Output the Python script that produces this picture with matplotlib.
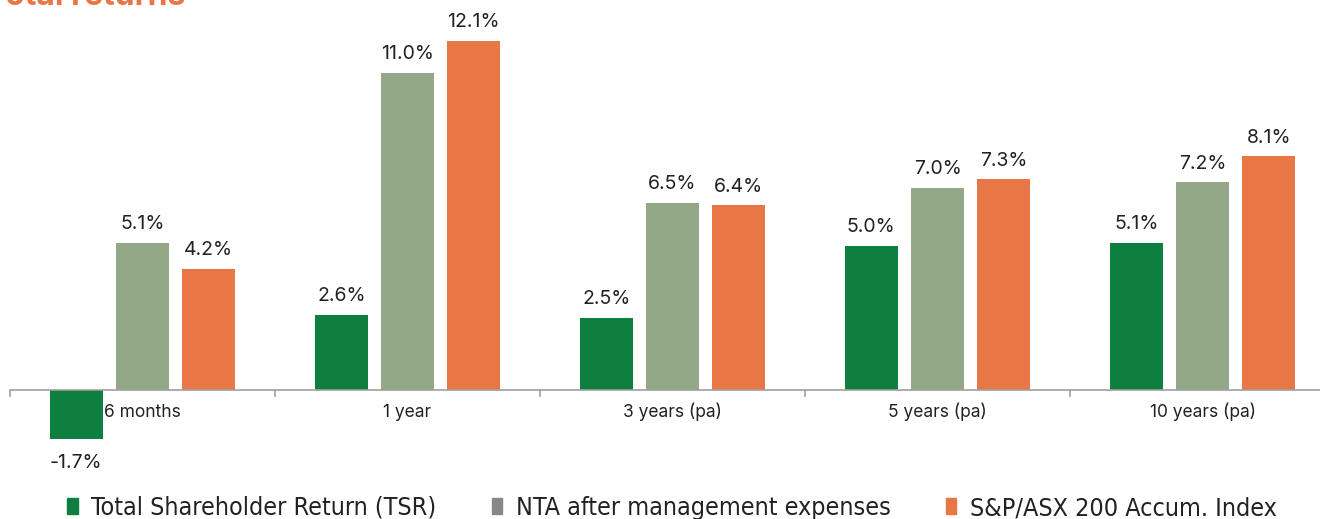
import matplotlib
matplotlib.use("Agg")
import matplotlib.pyplot as plt
from matplotlib.patches import Patch
import numpy as np

categories = ["6 months", "1 year", "3 years (pa)", "5 years (pa)", "10 years (pa)"]
tsr = [-1.7, 2.6, 2.5, 5.0, 5.1]
nta = [5.1, 11.0, 6.5, 7.0, 7.2]
index = [4.2, 12.1, 6.4, 7.3, 8.1]
series_names = ["Total Shareholder Return (TSR)", "NTA after management expenses", "S&P/ASX 200 Accum. Index"]
bar_colors = ["#0E7F3F", "#93A886", "#E97746"]
legend_colors = ["#0E7F3F", "#87888A", "#E97746"]

W, H = 1320, 519
fig = plt.figure(figsize=(W / 100, H / 100), dpi=100)
plt.rcParams['font.family'] = ['Inter', 'DejaVu Sans']

ax_height_px = 461.4
ax = fig.add_axes([10 / W, 42.5 / H, 1325 / W, ax_height_px / H])

x = np.arange(len(categories))
offsets = [-0.25, 0.0, 0.25]
width = 0.2
for vals, off, col in zip([tsr, nta, index], offsets, bar_colors):
    bars = ax.bar(x + off, vals, width, color=col, zorder=2)
    for b, v in zip(bars, vals):
        cx = b.get_x() + b.get_width() / 2
        if v >= 0:
            ax.annotate(f"{v:.1f}%", (cx, v), xytext=(0, 7), textcoords="offset points",
                        ha="center", va="bottom", fontsize=14, color="#222222")
        else:
            ax.annotate(f"{v:.1f}%", (cx, v), xytext=(0, -11), textcoords="offset points",
                        ha="center", va="top", fontsize=14, color="#222222")

ax.set_xlim(-0.5, len(categories) - 0.5)
ax.set_ylim(-3, 13)
for s in ["top", "right", "left", "bottom"]:
    ax.spines[s].set_visible(False)
ax.axhline(0, color="#A0A0A0", lw=1.2, zorder=3)
ax.set_yticks([])
ax.set_xticks([])
for xi, c in zip(x, categories):
    ax.annotate(c, (xi, 0), xytext=(0, -16), textcoords="offset points",
                ha="center", va="center", fontsize=12.5, color="#222222")
zero_frac = 3 / 16
tick_frac = 6 / ax_height_px
xtr = ax.get_xaxis_transform()
for xb in np.arange(-0.5, len(categories) + 0.5, 1):
    ax.plot([xb, xb], [zero_frac, zero_frac - tick_frac], transform=xtr,
            color="#A0A0A0", lw=1.2, clip_on=False, zorder=3)

fig.text(-0.012, 1 - 5 / H, "Total returns", fontsize=23, fontweight="bold",
         color="#E97746", ha="left", va="baseline")

handles = [Patch(color=c) for c in legend_colors]
leg = fig.legend(handles, series_names, loc="center", bbox_to_anchor=(0.509, 1 - 508 / H),
                 ncol=3, frameon=False, handlelength=0.42, handleheight=0.6,
                 handletextpad=0.55, columnspacing=2.2,
                 prop={'family': ['DejaVu Sans'], 'stretch': 'condensed', 'size': 18})
for t in leg.get_texts():
    t.set_color("#222222")

fig.savefig("out.png", dpi=100)
